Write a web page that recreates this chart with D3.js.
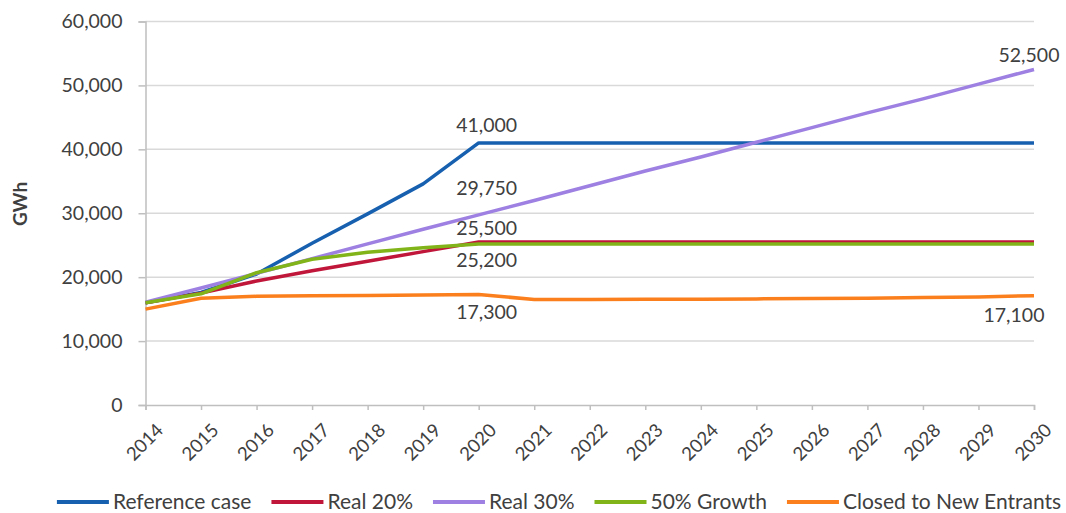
<!DOCTYPE html>
<html>
<head>
<meta charset="utf-8">
<script src="https://cdn.jsdelivr.net/npm/d3@7"></script>
<style>
  html, body { margin: 0; padding: 0; background: #fff; }
  svg { display: block; font-family: Lato, "Open Sans", sans-serif; }
</style>
</head>
<body>
<svg id="chart" width="1066" height="513"></svg>
<script>
// Annual electricity demand scenarios (GWh), 2014–2030
const years = [2014, 2015, 2016, 2017, 2018, 2019, 2020, 2021, 2022, 2023, 2024, 2025, 2026, 2027, 2028, 2029, 2030];

const referenceCase = [16000, 17600, 20500, 25300, 29900, 34600, 41000, 41000, 41000, 41000, 41000, 41000, 41000, 41000, 41000, 41000, 41000];
const real20 = [16000, 17500, 19400, 21000, 22500, 24000, 25500, 25500, 25500, 25500, 25500, 25500, 25500, 25500, 25500, 25500, 25500];
const real30 = [16100, 18300, 20600, 22900, 25200, 27500, 29750, 32000, 34300, 36600, 38800, 41100, 43400, 45700, 47900, 50200, 52500];
const growth50 = [16000, 17400, 20700, 22800, 23900, 24600, 25200, 25200, 25200, 25200, 25200, 25200, 25200, 25200, 25200, 25200, 25200];
const closedNew = [15000, 16700, 17000, 17100, 17150, 17200, 17300, 16500, 16500, 16550, 16550, 16600, 16650, 16700, 16800, 16900, 17100];

const seriesNames = ["Reference case", "Real 20%", "Real 30%", "50% Growth", "Closed to New Entrants"];
const seriesColors = ["#1760b0", "#c0163a", "#9d80e2", "#80b418", "#fb7f1c"];
const yTicks = [0, 10000, 20000, 30000, 40000, 50000, 60000];

const series = [referenceCase, real20, real30, growth50, closedNew].map((values, i) => ({
  name: seriesNames[i],
  color: seriesColors[i],
  values
}));

// Value callouts: [series index, year, dx, dy]
const callouts = [
  [0, 2020, 8, -18],
  [2, 2020, 8, -27],
  [1, 2020, 8, -14],
  [3, 2020, 8, 16],
  [4, 2020, 8, 18],
  [2, 2030, -5, -14],
  [4, 2030, -20, 19]
];

const svg = d3.select("#chart");
const textColor = "#404040";

const x = d3.scaleLinear().domain([2014, 2030]).range([145.5, 1034]);
const y = d3.scaleLinear().domain([0, 60000]).range([405, 21.5]);

const fmt = d3.format(",");

// Horizontal gridlines
svg.append("g")
  .selectAll("line")
  .data(yTicks.filter(d => d > 0))
  .join("line")
  .attr("x1", x(2014)).attr("x2", x(2030))
  .attr("y1", d => y(d)).attr("y2", d => y(d))
  .attr("stroke", "#d9d9d9")
  .attr("stroke-width", 1.5);

// Y axis
const yAxis = svg.append("g")
  .attr("transform", `translate(${x(2014)},0)`)
  .call(d3.axisLeft(y).tickValues(yTicks).tickFormat(fmt).tickSize(7).tickPadding(16));
yAxis.select(".domain").attr("stroke", "#bfbfbf").attr("stroke-width", 1.5);
yAxis.selectAll(".tick line").attr("stroke", "#bfbfbf").attr("stroke-width", 1.5);
yAxis.selectAll(".tick text")
  .attr("fill", textColor)
  .style("font-size", "19.5px")
  .style("font-family", "Lato, sans-serif");

// X axis
const xAxis = svg.append("g")
  .attr("transform", `translate(0,${y(0)})`)
  .call(d3.axisBottom(x).tickValues(years).tickFormat(d3.format("d")).tickSize(5).tickPadding(6));
xAxis.select(".domain").attr("stroke", "#bfbfbf").attr("stroke-width", 1.5);
xAxis.selectAll(".tick line").attr("stroke", "#bfbfbf").attr("stroke-width", 1.5);
xAxis.selectAll(".tick text")
  .attr("fill", textColor)
  .style("font-size", "18.5px")
  .style("font-family", "Lato, sans-serif")
  .attr("text-anchor", "end")
  .attr("dy", "0.35em")
  .attr("transform", "translate(6,14) rotate(-45)");

// Y axis title
svg.append("text")
  .attr("transform", `translate(20,204) rotate(-90)`)
  .attr("text-anchor", "middle")
  .attr("dy", "0.35em")
  .attr("fill", textColor)
  .style("font-size", "19px")
  .style("font-weight", "bold")
  .text("GWh");

// Series lines
const line = d3.line()
  .x((d, i) => x(years[i]))
  .y(d => y(d));

svg.append("g")
  .selectAll("path")
  .data(series)
  .join("path")
  .attr("d", d => line(d.values))
  .attr("fill", "none")
  .attr("stroke", d => d.color)
  .attr("stroke-width", 3.5)
  .attr("stroke-linejoin", "round");

// Value callouts
svg.append("g")
  .selectAll("text")
  .data(callouts)
  .join("text")
  .attr("x", d => x(d[1]) + d[2])
  .attr("y", d => y(series[d[0]].values[years.indexOf(d[1])]) + d[3])
  .attr("dy", "0.35em")
  .attr("text-anchor", "middle")
  .attr("fill", textColor)
  .style("font-size", "19.5px")
  .text(d => fmt(series[d[0]].values[years.indexOf(d[1])]));

// Legend
const legend = svg.append("g");
const items = legend.selectAll("g")
  .data(series)
  .join("g");
items.append("line")
  .attr("x1", 0).attr("x2", 52)
  .attr("y1", 0).attr("y2", 0)
  .attr("stroke", d => d.color)
  .attr("stroke-width", 4);
items.append("text")
  .attr("x", 56)
  .attr("dy", "0.35em")
  .attr("fill", textColor)
  .style("font-size", "21px")
  .text(d => d.name);

let offset = 0;
const gap = 20;
const widths = [];
items.each(function () {
  const w = 56 + this.querySelector("text").getComputedTextLength();
  widths.push(w);
});
const total = d3.sum(widths) + gap * (widths.length - 1);
const start = 559 - total / 2;
items.attr("transform", (d, i) => {
  const tx = start + offset;
  offset += widths[i] + gap;
  return `translate(${tx},502)`;
});
</script>
</body>
</html>
